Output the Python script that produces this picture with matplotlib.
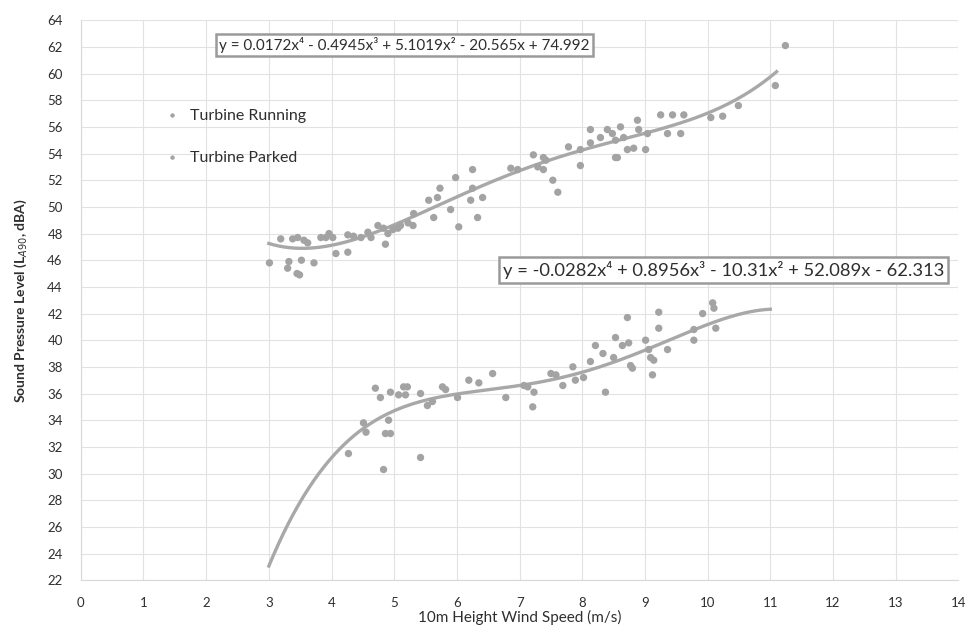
import matplotlib
matplotlib.use("Agg")
import matplotlib.pyplot as plt
import numpy as np

plt.rcParams['font.family'] = ['Lato', 'DejaVu Sans']

# Turbine Running (upper series)
run_x = [3.01, 3.19, 3.32, 3.30, 3.45, 3.49, 3.52, 3.72, 3.38, 3.46, 3.56, 3.62,
         3.83, 3.91, 3.96, 4.02, 4.07, 4.26, 4.26, 4.35, 4.47, 4.58, 4.63,
         4.74, 4.83, 4.90, 4.98, 5.06, 5.10, 5.22, 5.31, 4.86, 5.30,
         5.55, 5.69, 5.63, 5.90, 6.03, 5.73, 5.98, 6.25, 6.25, 6.22, 6.41, 6.33,
         6.86, 6.97, 7.22, 7.29, 7.38, 7.53, 7.61, 7.42, 7.38,
         7.78, 7.97, 7.97, 8.13, 8.13, 8.29, 8.40, 8.48, 8.53, 8.61, 8.66, 8.56,
         8.72, 8.82, 8.88, 8.90, 9.01, 9.04, 8.53, 9.25, 9.44, 9.62, 9.36, 9.57,
         10.05, 10.24, 10.49, 11.08, 11.24]
run_y = [45.8, 47.6, 45.9, 45.4, 45.0, 44.9, 46.0, 45.8, 47.6, 47.7, 47.5, 47.3,
         47.7, 47.7, 48.0, 47.7, 46.5, 46.6, 47.9, 47.8, 47.7, 48.1, 47.7,
         48.6, 48.4, 48.0, 48.3, 48.4, 48.6, 48.8, 49.5, 47.2, 48.6,
         50.5, 50.7, 49.2, 49.8, 48.5, 51.4, 52.2, 52.8, 51.4, 50.5, 50.7, 49.2,
         52.9, 52.8, 53.9, 53.0, 52.8, 52.0, 51.1, 53.5, 53.7,
         54.5, 54.3, 53.1, 55.8, 54.8, 55.2, 55.8, 55.5, 55.0, 56.0, 55.2, 53.7,
         54.3, 54.4, 56.5, 55.8, 54.3, 55.5, 53.7, 56.9, 56.9, 56.9, 55.5, 55.5,
         56.7, 56.8, 57.6, 59.1, 62.1]

# Turbine Parked (lower series)
park_x = [4.27, 4.51, 4.55, 4.70, 4.78, 4.83, 4.86, 4.94, 4.91, 4.94,
          5.07, 5.15, 5.21, 5.18, 5.42, 5.42, 5.53, 5.61, 5.77, 5.82, 6.01,
          6.19, 6.35, 6.57, 6.78, 7.07, 7.13, 7.21, 7.23, 7.50, 7.58, 7.69,
          7.85, 7.89, 8.02, 8.13, 8.21, 8.37, 8.33, 8.50, 8.53, 8.72, 8.64,
          8.74, 8.77, 8.80, 9.01, 9.06, 9.09, 9.14, 9.12, 9.22, 9.22, 9.36,
          9.78, 9.78, 9.92, 10.08, 10.10, 10.13]
park_y = [31.5, 33.8, 33.1, 36.4, 35.7, 30.3, 33.0, 33.0, 34.0, 36.1,
          35.9, 36.5, 36.5, 35.9, 36.0, 31.2, 35.1, 35.4, 36.5, 36.3, 35.7,
          37.0, 36.8, 37.5, 35.7, 36.6, 36.5, 35.0, 36.1, 37.5, 37.4, 36.6,
          38.0, 37.0, 37.2, 38.4, 39.6, 36.1, 39.0, 38.7, 40.2, 41.7, 39.6,
          39.8, 38.1, 37.9, 40.0, 39.3, 38.7, 38.5, 37.4, 42.1, 40.9, 39.3,
          40.8, 40.0, 42.0, 42.8, 42.4, 40.9]

# Trendline coefficients (highest power first), as displayed
run_coef = [0.0172, -0.4945, 5.1019, -20.565, 74.992]
park_coef = [-0.0282, 0.8956, -10.31, 52.089, -62.313]
run_range = [3.0, 11.1]
park_range = [3.0, 11.0]

run_eq = "y = 0.0172x\u2074 - 0.4945x\u00b3 + 5.1019x\u00b2 - 20.565x + 74.992"
park_eq = "y = -0.0282x\u2074 + 0.8956x\u00b3 - 10.31x\u00b2 + 52.089x - 62.313"

x_ticks = list(range(0, 15))
y_ticks = list(range(22, 65, 2))

fig = plt.figure(figsize=(9.73, 6.32), dpi=100)
ax = fig.add_axes([0.083, 0.082, 0.902, 0.886])

pt_col = '#a3a3a3'
line_col = '#a8a8a8'
txt_col = '#2e2e2e'

ax.scatter(run_x, run_y, s=28, color=pt_col, edgecolors='none', zorder=3, label='Turbine Running')
ax.scatter(park_x, park_y, s=28, color=pt_col, edgecolors='none', zorder=3, label='Turbine Parked')

xr = np.linspace(run_range[0], run_range[1], 200)
ax.plot(xr, np.polyval(run_coef, xr), color=line_col, lw=2.4, zorder=2)
xp = np.linspace(park_range[0], park_range[1], 200)
ax.plot(xp, np.polyval(park_coef, xp), color=line_col, lw=2.4, zorder=2)

ax.set_xlim(0, 14)
ax.set_ylim(22, 64)
ax.set_xticks(x_ticks)
ax.set_yticks(y_ticks)
ax.set_xticklabels([str(v) for v in x_ticks])
ax.set_yticklabels([str(v) for v in y_ticks])
ax.tick_params(axis='x', length=0, labelsize=9.5, colors=txt_col, pad=12)
ax.tick_params(axis='y', length=0, labelsize=9.5, colors=txt_col, pad=13)
ax.grid(True, color='#e2e2e2', lw=0.8)
ax.set_axisbelow(True)
for s in ['top', 'right']:
    ax.spines[s].set_visible(False)
for s in ['left', 'bottom']:
    ax.spines[s].set_color('#d8d8d8')

ax.set_xlabel('10m Height Wind Speed (m/s)', fontsize=11, color=txt_col, labelpad=1)
ax.set_ylabel('Sound Pressure Level (L$_{A90}$, dBA)', fontsize=10, color=txt_col,
              fontweight='bold', labelpad=13)

ax.legend(loc='upper left', bbox_to_anchor=(0.07, 0.868), frameon=False,
          fontsize=11.5, handletextpad=0.1, labelspacing=1.75, markerscale=0.6,
          labelcolor=txt_col)

box = dict(boxstyle='square,pad=0.2', facecolor='white', edgecolor='#9a9a9a', lw=1.8)
ax.text(0.369, 0.955, run_eq, transform=ax.transAxes, ha='center', va='center',
        fontsize=11, color=txt_col, bbox=box, zorder=5)
ax.text(0.732, 0.554, park_eq, transform=ax.transAxes, ha='center', va='center',
        fontsize=13.2, color=txt_col, bbox=box, zorder=5)

fig.savefig('out.png', dpi=100, facecolor='white')
